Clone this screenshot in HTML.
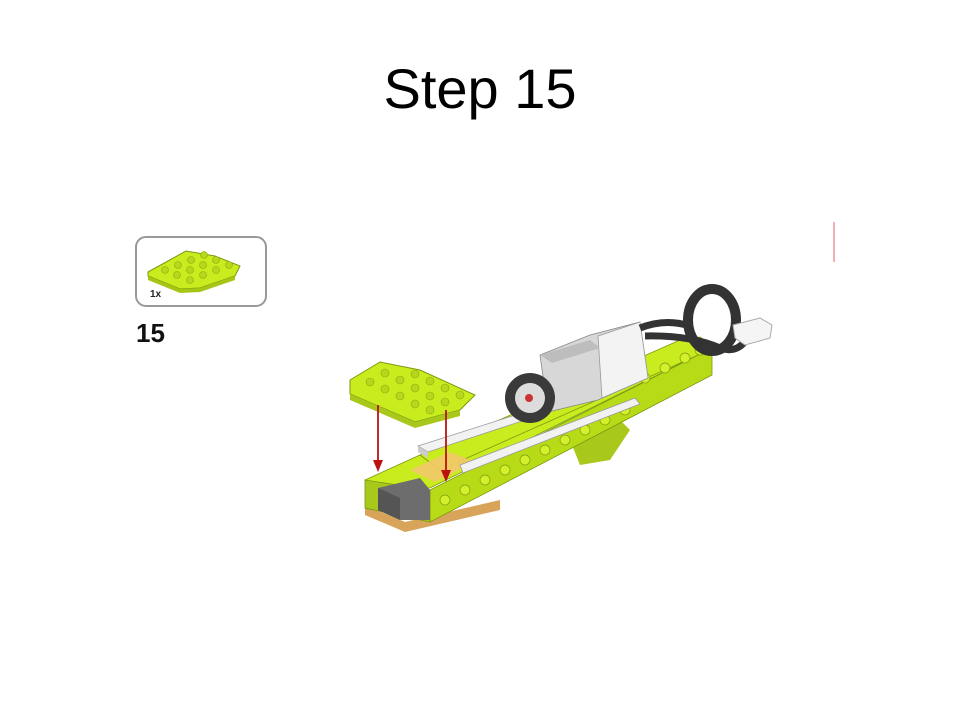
<!DOCTYPE html>
<html><head><meta charset="utf-8"><style>
html,body{margin:0;padding:0;background:#fff;}
#root{position:relative;width:960px;height:720px;overflow:hidden;font-family:"Liberation Sans",sans-serif;}
#title{position:absolute;left:0;width:960px;top:56px;text-align:center;font-size:56px;color:#000;}
</style></head><body>
<div id="root">
<div id="title">Step 15</div>
<svg width="960" height="720" style="position:absolute;left:0;top:0">
  <g>
    <rect x="136" y="237" width="130" height="69" rx="10" fill="#fff" stroke="#999" stroke-width="2"/>
    <polygon points="148,272 186,251 215,256 240,266 235,276 200,288 180,289 148,276" fill="#c9ec1e" stroke="#7a9a10" stroke-width="1"/>
    <polygon points="148,276 180,289 200,288 235,276 235,280 200,292 180,293 148,280" fill="#a6c615"/>
    <g fill="#b5d81a" stroke="#8aaa12" stroke-width="0.6">
      <circle cx="165" cy="270" r="3.5"/><circle cx="178" cy="265" r="3.5"/><circle cx="191" cy="260" r="3.5"/><circle cx="204" cy="255" r="3.5"/>
      <circle cx="177" cy="275" r="3.5"/><circle cx="190" cy="270" r="3.5"/><circle cx="203" cy="265" r="3.5"/><circle cx="216" cy="260" r="3.5"/>
      <circle cx="190" cy="280" r="3.5"/><circle cx="203" cy="275" r="3.5"/><circle cx="216" cy="270" r="3.5"/><circle cx="229" cy="265" r="3.5"/>
    </g>
    <text x="150" y="297" font-size="10" font-weight="bold" fill="#222">1x</text>
  </g>
  <text x="136" y="342" font-size="26" font-weight="bold" fill="#111">15</text>
  <line x1="834" y1="222" x2="834" y2="262" stroke="#e06060" stroke-width="1"/>
  <g>
    <polygon points="365,505 405,522 500,500 500,510 405,532 365,515" fill="#d7a45a"/>
    <polygon points="420,455 680,340 700,337 712,345 705,355 440,470" fill="#c9ec1e" stroke="#7a9a10" stroke-width="0.8"/>
    <polygon points="570,440 620,420 630,430 610,460 580,465" fill="#a9c81c"/>
    <polygon points="365,480 420,455 440,470 705,352 712,348 430,488 385,488" fill="#c9ec1e" stroke="#7a9a10" stroke-width="0.8"/>
    <polygon points="430,490 712,348 712,375 430,522" fill="#b8db18" stroke="#7a9a10" stroke-width="0.8"/>
    <g fill="#d4f02a" stroke="#7a9a10" stroke-width="0.7">
      <circle cx="445" cy="500" r="5"/><circle cx="465" cy="490" r="5"/><circle cx="485" cy="480" r="5"/><circle cx="505" cy="470" r="5"/><circle cx="525" cy="460" r="5"/><circle cx="545" cy="450" r="5"/><circle cx="565" cy="440" r="5"/><circle cx="585" cy="430" r="5"/><circle cx="605" cy="420" r="5"/><circle cx="625" cy="410" r="5"/><circle cx="645" cy="378" r="5"/><circle cx="665" cy="368" r="5"/><circle cx="685" cy="358" r="5"/><circle cx="700" cy="350" r="5"/>
    </g>
    <polygon points="365,480 430,490 430,522 365,508" fill="#a9c81c" stroke="#7a9a10" stroke-width="0.8"/>
    <polygon points="378,488 420,478 430,490 430,520 400,520 378,510" fill="#6d6d6d"/>
    <polygon points="378,488 400,498 400,520 378,510" fill="#555"/>
    <polygon points="410,470 450,452 475,462 435,482" fill="#f3c96a" opacity="0.9"/>
    <polygon points="418,446 600,388 610,392 428,452" fill="#f2f2f2" stroke="#999" stroke-width="0.8"/>
    <polygon points="418,446 428,452 428,458 418,452" fill="#ccc"/>
    <polygon points="460,465 635,398 640,404 463,473" fill="#f2f2f2" stroke="#999" stroke-width="0.8"/>
    <polygon points="540,355 590,335 640,322 648,378 598,400 548,412" fill="#d7d7d7" stroke="#888" stroke-width="0.8"/>
    <polygon points="598,336 640,322 648,378 602,398" fill="#f3f3f3" stroke="#999" stroke-width="0.8"/>
    <polygon points="540,355 590,340 600,348 552,363" fill="#bdbdbd"/>
    <circle cx="530" cy="398" r="25" fill="#3a3a3a"/>
    <circle cx="530" cy="398" r="15" fill="#dcdcdc"/>
    <circle cx="529" cy="398" r="4" fill="#c33"/>
    <path d="M640,328 Q665,318 690,326 M645,336 Q690,335 720,348 Q740,355 750,333" stroke="#333" stroke-width="7" fill="none"/>
    <ellipse cx="712" cy="320" rx="24" ry="31" fill="none" stroke="#333" stroke-width="10"/>
    <polygon points="733,325 760,318 772,325 770,338 745,345 735,338" fill="#f5f5f5" stroke="#aaa" stroke-width="1"/>
    <polygon points="350,380 380,362 420,370 475,395 460,410 415,422 350,394" fill="#c9ec1e" stroke="#7a9a10" stroke-width="1"/>
    <polygon points="350,394 415,422 460,410 460,416 415,428 350,400" fill="#a9c81c"/>
    <g fill="#b5d81a" stroke="#8aaa12" stroke-width="0.6">
      <circle cx="370" cy="382" r="4"/><circle cx="385" cy="373" r="4"/><circle cx="385" cy="389" r="4"/><circle cx="400" cy="380" r="4"/><circle cx="415" cy="374" r="4"/><circle cx="400" cy="396" r="4"/><circle cx="415" cy="388" r="4"/><circle cx="430" cy="381" r="4"/><circle cx="415" cy="404" r="4"/><circle cx="430" cy="396" r="4"/><circle cx="445" cy="388" r="4"/><circle cx="430" cy="410" r="4"/><circle cx="445" cy="402" r="4"/><circle cx="460" cy="395" r="4"/>
    </g>
    <g stroke="#b11" stroke-width="1.8" fill="#b11">
      <line x1="378" y1="405" x2="378" y2="462"/>
      <polygon points="373,460 383,460 378,472" stroke="none"/>
      <line x1="446" y1="410" x2="446" y2="472"/>
      <polygon points="441,470 451,470 446,482" stroke="none"/>
    </g>
  </g>
</svg>
</div>
</body></html>
